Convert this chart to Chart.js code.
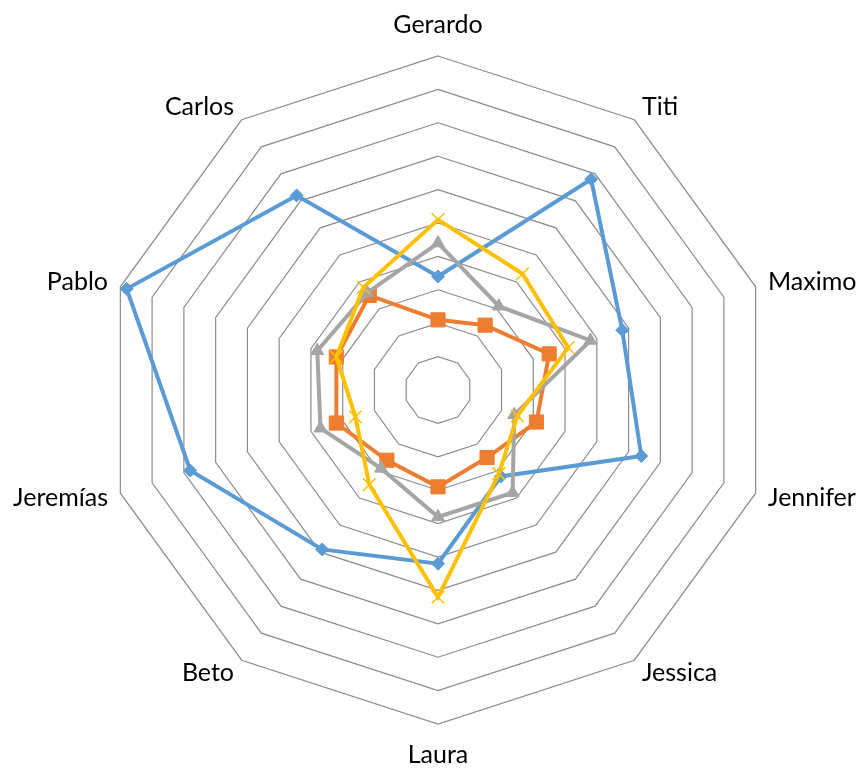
<!DOCTYPE html>
<html>
<head>
<meta charset="utf-8">
<script src="https://cdn.jsdelivr.net/npm/chart.js@4"></script>
<style>
    html, body { margin: 0; padding: 0; background: #ffffff; }
    #wrap { width: 862px; height: 774px; }
</style>
</head>
<body>
<div id="wrap"><canvas id="radar" width="862" height="774"></canvas></div>
<script>
// ============================================
// Data
// ============================================

const names = ['Gerardo', 'Titi', 'Maximo', 'Jennifer', 'Jessica', 'Laura', 'Beto', 'Jeremías', 'Pablo', 'Carlos'];

const serieAzul     = [34, 78, 58, 64, 32, 52, 59, 78, 98, 72];
const serieNaranja  = [21, 24, 35, 31, 25, 29, 26, 32, 32, 35];
const serieGris     = [44, 31, 48, 24, 38, 38, 29, 37, 38, 36];
const serieAmarilla = [51, 43, 41, 25, 31, 62, 35, 26, 32, 38];

const scaleMin = 0;
const scaleMax = 100;
const scaleStep = 10;

// ============================================
// Category labels (placed like the spreadsheet does,
// beside the outer ring instead of Chart.js' default spot)
// ============================================

const labelPlugin = {
    id: 'labelPlugin',
    afterDraw(chart) {
        const scale = chart.scales.r;
        const c = chart.ctx;
        c.save();
        c.font = '25px Lato';
        c.fillStyle = '#000000';
        c.textBaseline = 'middle';
        chart.data.labels.forEach((name, i) => {
            const p = scale.getPointPosition(i, scale.drawingArea);
            const ang = scale.getIndexAngle(i);
            const s = Math.sin(ang);
            const k = Math.cos(ang);
            let x = p.x;
            let y;
            if (Math.abs(s) < 0.01) {
                c.textAlign = 'center';
                y = p.y - k * 31;
            } else {
                c.textAlign = s > 0 ? 'left' : 'right';
                x = p.x + 13 * s;
                y = p.y - k * 15.5;
            }
            c.fillText(name, x, y);
        });
        c.restore();
    }
};

// ============================================
// Chart
// ============================================

function makeSet(label, data, color, style, radius, order) {
    return {
        label: label,
        data: data,
        borderColor: color,
        backgroundColor: color,
        pointBackgroundColor: color,
        pointBorderColor: color,
        borderWidth: 4,
        pointStyle: style,
        pointRadius: radius,
        pointBorderWidth: style === 'crossRot' ? 1.5 : 1,
        fill: false,
        order: order
    };
}

const ctx = document.getElementById('radar').getContext('2d');
new Chart(ctx, {
    type: 'radar',
    data: {
        labels: names,
        datasets: [
            makeSet('Serie 1', serieAzul, '#5B9BD5', 'rectRot', 6.5, 4),
            makeSet('Serie 2', serieNaranja, '#ED7D31', 'rect', 10, 3),
            makeSet('Serie 3', serieGris, '#A5A5A5', 'triangle', 7.5, 2),
            makeSet('Serie 4', serieAmarilla, '#FFC000', 'crossRot', 9, 1)
        ]
    },
    options: {
        responsive: false,
        animation: false,
        layout: { padding: { top: 56, bottom: 50, left: 78, right: 64 } },
        plugins: {
            legend: { display: false },
            tooltip: { enabled: false }
        },
        scales: {
            r: {
                min: scaleMin,
                max: scaleMax,
                ticks: { display: false, stepSize: scaleStep },
                angleLines: { display: false },
                grid: { color: '#8C8C8C', lineWidth: 1.2 },
                pointLabels: { display: false }
            }
        }
    },
    plugins: [labelPlugin]
});
</script>
</body>
</html>
